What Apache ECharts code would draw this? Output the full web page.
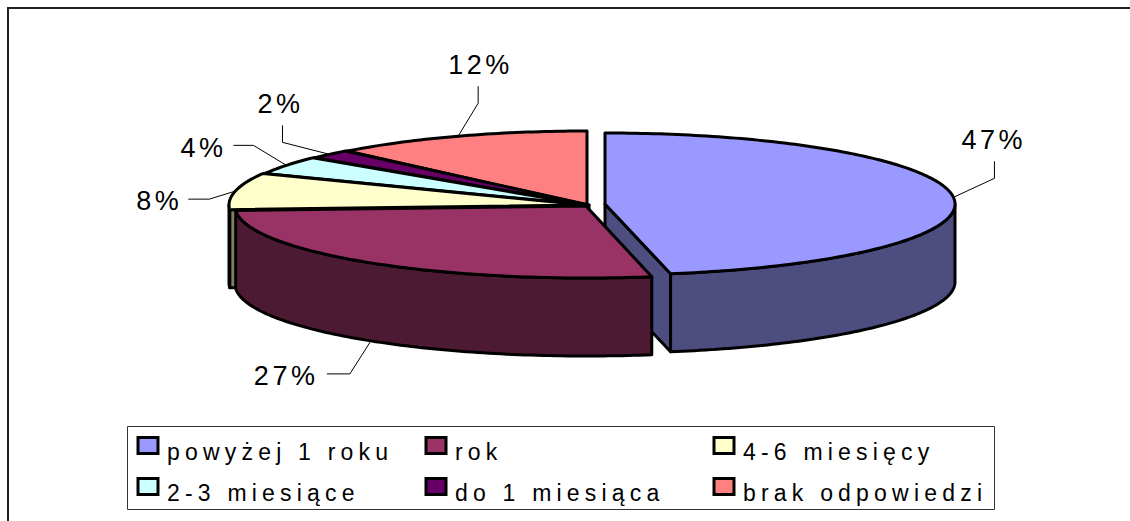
<!DOCTYPE html>
<html><head><meta charset="utf-8">
<style>
html,body{margin:0;padding:0;background:#fff}
#c{width:1130px;height:521px}
svg text{letter-spacing:5.2px}
svg text[style*="27px"]{letter-spacing:3.5px}
</style>
<script src="https://cdn.jsdelivr.net/npm/echarts@6/dist/echarts.min.js"></script>
</head><body><div id="c"></div>
<script>
// Data
const categories = ['powyżej 1 roku','rok','4-6 miesięcy','2-3 miesiące','do 1 miesiąca','brak odpowiedzi'];
const values = [47,27,8,4,2,12];
// Styles
const topColors = ['#9999FF','#993366','#FFFFCC','#CCFFFF','#660066','#FF8080'];
const sideColors = ['#4D4D80','#4D1A33','#80805F','#668080','#330033','#804040'];
// Layout: slice centres and radii (exploded pie), in px
const centersX = [605,586,585,587,589,587];
const centersY = [204,206,205,205,205,205];
const radiiX = [350,351,356,356,356,350];
const radiiY = [71,72,74,74,74,74];
const DEPTH = 78;
const drawOrder = [5,4,3,2,0,1];
// Layout: leader and label offsets relative to the rim anchor of each slice
const leaderElbow = [[41,-19],[-21,33],[-26,8],[-33,-20],[-47,-12],[20,-33]];
const leaderEnd = [[41,-36],[-44,33],[-47,8],[-53,-20],[-47,-29],[20,-50]];
const labelPos = [[8,-57],[-117,35],[-99,10],[-106,-17],[-72,-50],[-10,-71]];
const legendCols = [[0,3],[1,4],[2,5]];
const legendLeft = [136.5,424.5,712.5];
// Legend swatch sits in the upper-left of its cell, so the text lies a little lower
const swatchPath = 'path://M0 0H20V16H0Z M24 28 L24 28';

const total = values.reduce((a,b)=>a+b,0);
const cum = []; values.reduce((s,v,i)=>{cum[i]=s;return s+v;},0);
const rad = d => d*Math.PI/180;
function rim(i,deg,dy){
  return [centersX[i]+radiiX[i]*Math.sin(rad(deg)), centersY[i]-radiiY[i]*Math.cos(rad(deg))+(dy||0)];
}
function arc(i,a0,a1,dy){
  const pts=[], n=Math.max(2,Math.ceil(Math.abs(a1-a0)));
  for(let k=0;k<=n;k++) pts.push(rim(i,a0+(a1-a0)*k/n,dy));
  return pts;
}
function poly(points,fill,z2){
  return {type:'polygon',z2:z2,shape:{points:points},
    style:{fill:fill,stroke:'#000',lineWidth:3,lineJoin:'round'}};
}
function renderSlice(i){
  const a0=cum[i]/total*360, a1=(cum[i]+values[i])/total*360;
  const c=[centersX[i],centersY[i]], children=[];
  const face=(deg)=>{const r=rim(i,deg);
    return poly([c,r,[r[0],r[1]+DEPTH],[c[0],c[1]+DEPTH]],sideColors[i],1);};
  if(a0>180&&a0<360) children.push(face(a0));
  if(a1>0&&a1<180) children.push(face(a1));
  const w0=Math.max(a0,90), w1=Math.min(a1,270);
  if(w1>w0) children.push(poly(arc(i,w0,w1,0).concat(arc(i,w1,w0,DEPTH)),sideColors[i],2));
  children.push(poly([c].concat(arc(i,a0,a1,0)),topColors[i],3));
  const mid=(a0+a1)/2, anchor=rim(i,mid,(mid>90&&mid<270&&i===1)?DEPTH:0);
  const off=p=>[anchor[0]+p[0],anchor[1]+p[1]];
  children.push({type:'polyline',z2:4,shape:{points:[anchor,off(leaderElbow[i]),off(leaderEnd[i])]},
    style:{fill:null,stroke:'#000',lineWidth:1}});
  const lp=off(labelPos[i]);
  children.push({type:'text',z2:5,x:lp[0],y:lp[1],
    style:{text:Math.round(values[i]/total*100)+'%',fill:'#000',font:'27px "Liberation Sans"',
      textAlign:'left',textVerticalAlign:'middle'}});
  return {type:'group',children:children};
}

const series = drawOrder.map((i,ord)=>({
  type:'custom',name:categories[i],coordinateSystem:'none',z:2+ord,
  itemStyle:{color:topColors[i]},silent:true,animation:false,
  data:[values[i]],
  renderItem:()=>renderSlice(i)
}));

const legend = legendCols.map((col,c)=>({
  orient:'vertical',left:legendLeft[c],top:436,padding:0,itemWidth:24,itemHeight:28,itemGap:10,
  icon:swatchPath,selectedMode:false,z:20,
  textStyle:{fontFamily:'Liberation Sans',fontSize:23,color:'#000',lineHeight:28},
  data:col.map(i=>({name:categories[i],itemStyle:{color:topColors[i],borderColor:'#000',borderWidth:3}}))
}));

const chart = echarts.init(document.getElementById('c'),null,{renderer:'svg'});
chart.setOption({
  animation:false,backgroundColor:'#fff',
  legend:legend,series:series,
  graphic:[
    {type:'polyline',z:1,shape:{points:[[8,521],[8,8],[1130,8]]},style:{fill:null,stroke:'#222',lineWidth:2}},
    {type:'rect',z:1,shape:{x:127.5,y:426.5,width:867,height:83},style:{fill:'#fff',stroke:'#333',lineWidth:1}}
  ]
});
</script></body></html>
